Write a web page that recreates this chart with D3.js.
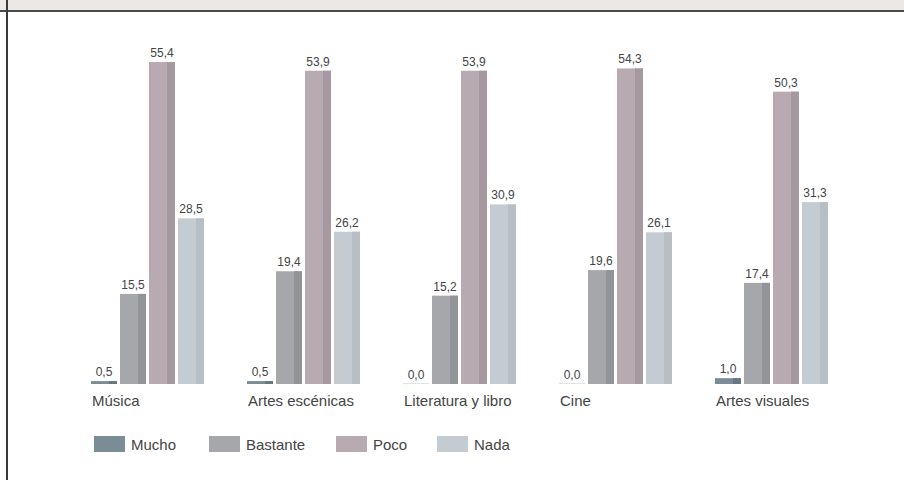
<!DOCTYPE html>
<html><head><meta charset="utf-8">
<script src="https://cdn.jsdelivr.net/npm/d3@7"></script>
<style>
html,body{margin:0;padding:0;background:#fff;}
svg{display:block;font-family:"Liberation Sans",Arial,sans-serif;}
</style></head>
<body><svg id="chart" width="904" height="480"></svg>
<script>
const categories = ["Música", "Artes escénicas", "Literatura y libro", "Cine", "Artes visuales"];
const seriesNames = ["Mucho", "Bastante", "Poco", "Nada"];
const mucho    = [0.5, 0.5, 0.0, 0.0, 1.0];
const bastante = [15.5, 19.4, 15.2, 19.6, 17.4];
const poco     = [55.4, 53.9, 53.9, 54.3, 50.3];
const nada     = [28.5, 26.2, 30.9, 26.1, 31.3];
const seriesValues = [mucho, bastante, poco, nada];
const colors     = ["#7a8c95", "#a6a7aa", "#b7aab1", "#c4cbd1"];
const darkColors = ["#66777f", "#939498", "#a6989f", "#b7bec4"];

const svg = d3.select("#chart");
// frame
svg.append("rect").attr("x",0).attr("y",0).attr("width",904).attr("height",10).attr("fill","#ebe8e5");
svg.append("rect").attr("x",0).attr("y",10).attr("width",904).attr("height",2).attr("fill","#4a4a4a");
svg.append("rect").attr("x",6).attr("y",0).attr("width",2).attr("height",480).attr("fill","#3a3a3a");

const y = d3.scaleLinear().domain([0, 60]).range([384, 35.3]);
const x0 = d3.scaleBand().domain(categories).range([91, 91 + 156 * categories.length]).paddingInner(0).paddingOuter(0);
const x1 = d3.scaleBand().domain(seriesNames).range([0, 113]).paddingInner(3 / 29).paddingOuter(0);
const bw = x1.bandwidth();

const data = [];
categories.forEach((c, ci) => seriesNames.forEach((s, si) => data.push({c, s, si, v: seriesValues[si][ci]})));

const g = svg.append("g");
const bars = g.selectAll("g.bar").data(data).join("g").attr("class","bar")
  .attr("transform", d => `translate(${x0(d.c) + x1(d.s)},0)`);

bars.append("rect")
  .attr("x", 0).attr("width", bw)
  .attr("y", d => d.v > 0 ? y(d.v) : y(0) - 1)
  .attr("height", d => d.v > 0 ? y(0) - y(d.v) : 1)
  .attr("fill", d => d.v > 0 ? colors[d.si] : "#e1e4e6");
bars.filter(d => d.v > 0).append("rect")
  .attr("x", Math.round(bw * 0.69)).attr("width", bw - Math.round(bw * 0.69))
  .attr("y", d => y(d.v))
  .attr("height", d => y(0) - y(d.v))
  .attr("fill", d => darkColors[d.si]);

const fmt = v => d3.format(".1f")(v).replace(".", ",");
bars.append("text")
  .attr("x", bw / 2)
  .attr("y", d => y(d.v) - 5)
  .attr("text-anchor", "middle")
  .attr("font-size", 12)
  .attr("fill", "#444")
  .text(d => fmt(d.v));

// category labels
svg.append("g").selectAll("text").data(categories).join("text")
  .attr("x", d => x0(d) + 1)
  .attr("y", 406)
  .attr("font-size", 15)
  .attr("fill", "#444")
  .text(d => d);

// legend
const legendX = [94, 209, 336, 437];
const lg = svg.append("g").selectAll("g").data(seriesNames).join("g")
  .attr("transform", (d, i) => `translate(${legendX[i]},436)`);
lg.append("rect").attr("width", 31).attr("height", 16).attr("fill", (d, i) => colors[i]);
lg.append("text").attr("x", 37).attr("y", 13.5).attr("font-size", 15).attr("fill", "#444").text(d => d);
</script>
</body></html>
